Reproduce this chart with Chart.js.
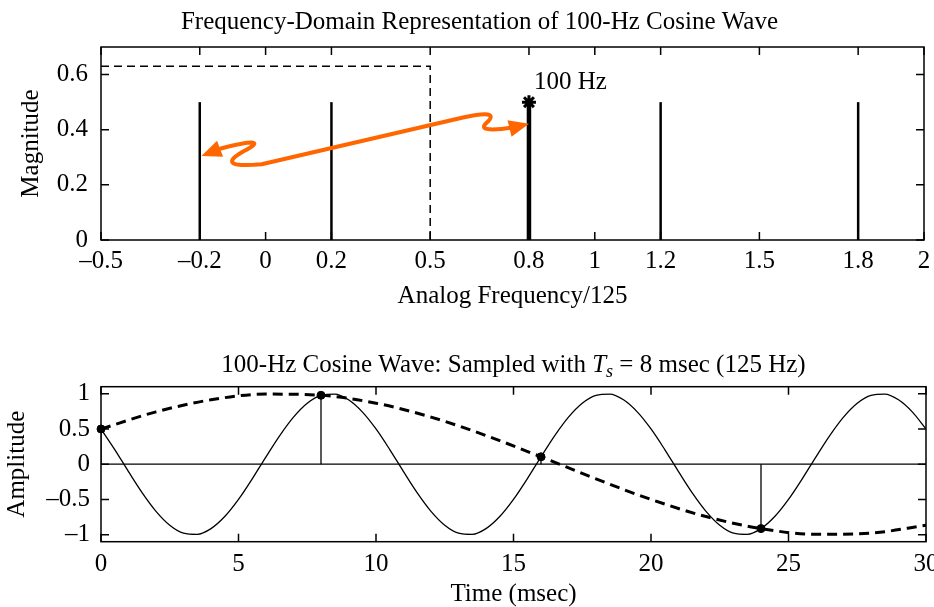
<!DOCTYPE html>
<html>
<head>
<meta charset="utf-8">
<script src="https://cdn.jsdelivr.net/npm/chart.js@4.4.0/dist/chart.umd.min.js"></script>
<style>
  html, body { margin: 0; padding: 0; background: #fff; }
  .box { position: absolute; left: 0; width: 934px; }
</style>
</head>
<body>
<div class="box" style="top:0;height:320px"><canvas id="freq"></canvas></div>
<div class="box" style="top:320px;height:287px"><canvas id="time"></canvas></div>
<script>
// ---- top panel: spectrum ----
const freqTicks = [-0.5, -0.2, 0, 0.2, 0.5, 0.8, 1, 1.2, 1.5, 1.8, 2];
const freqTickLabels = ['\u20130.5', '\u20130.2', '0', '0.2', '0.5', '0.8', '1', '1.2', '1.5', '1.8', '2'];
const magTicks = [0, 0.2, 0.4, 0.6];
const magTickLabels = ['0', '0.2', '0.4', '0.6'];
const spectrumFreq = [-0.2, 0.2, 0.8, 1.2, 1.8];
const spectrumMag = [0.5, 0.5, 0.5, 0.5, 0.5];
const markedIndex = 2; // the 100 Hz line
const foldX = [-0.5, 0.5, 0.5];
const foldY = [0.63, 0.63, 0];

// ---- bottom panel: time signal ----
const timeTicks = [0, 5, 10, 15, 20, 25, 30];
const ampTicks = [-1, -0.5, 0, 0.5, 1];
const ampTickLabels = ['\u20131', '\u20130.5', '0', '0.5', '1'];
const timeMs = [0, 0.5, 1, 1.5, 2, 2.5, 3, 3.5, 4, 4.5, 5, 5.5, 6, 6.5, 7, 7.5, 8, 8.5, 9, 9.5,
  10, 10.5, 11, 11.5, 12, 12.5, 13, 13.5, 14, 14.5, 15, 15.5, 16, 16.5, 17, 17.5, 18, 18.5, 19, 19.5,
  20, 20.5, 21, 21.5, 22, 22.5, 23, 23.5, 24, 24.5, 25, 25.5, 26, 26.5, 27, 27.5, 28, 28.5, 29, 29.5, 30];
const wave100 = [0.5, 0.208, -0.105, -0.407, -0.669, -0.866, -0.978, -0.995, -0.914, -0.743,
  -0.5, -0.208, 0.105, 0.407, 0.669, 0.866, 0.978, 0.995, 0.914, 0.743,
  0.5, 0.208, -0.105, -0.407, -0.669, -0.866, -0.978, -0.995, -0.914, -0.743,
  -0.5, -0.208, 0.105, 0.407, 0.669, 0.866, 0.978, 0.995, 0.914, 0.743,
  0.5, 0.208, -0.105, -0.407, -0.669, -0.866, -0.978, -0.995, -0.914, -0.743,
  -0.5, -0.208, 0.105, 0.407, 0.669, 0.866, 0.978, 0.995, 0.914, 0.743, 0.5];
const aliasMs = [0, 2, 4, 6, 8, 10, 12, 14, 16, 18, 20, 22, 24, 26, 28, 30];
const wave25 = [0.5, 0.743, 0.914, 0.995, 0.978, 0.866, 0.669, 0.407, 0.105, -0.208,
  -0.5, -0.743, -0.914, -0.995, -0.978, -0.866];
const sampleMs = [0, 8, 16, 24];
const sampleAmp = [0.5, 0.978, 0.105, -0.914];

// orange double arrow, in data units of the top panel
const arrowPath = [
  ['M', -0.136, 0.332],
  ['Q', 0.024, 0.379, -0.067, 0.322],
  ['Q', -0.158, 0.260, -0.012, 0.275],
  ['L', 0.603, 0.445],
  ['Q', 0.709, 0.473, 0.676, 0.430],
  ['Q', 0.630, 0.387, 0.752, 0.408]
];
const arrowHeads = [
  { from: [-0.136, 0.332], tip: [-0.195, 0.305] },
  { from: [0.752, 0.408], tip: [0.8, 0.422] }
];

const SERIF = '"Liberation Serif", "Times New Roman", serif';
Chart.defaults.font.family = SERIF;
Chart.defaults.font.size = 25;
Chart.defaults.color = '#000';

const pts = (xs, ys) => xs.map((x, i) => ({ x: x, y: ys[i] }));

function fixedTicks(values) {
  return s => { s.ticks = values.map(v => ({ value: v })); };
}

// frame plus inward ticks on all four sides
const frameTicks = {
  id: 'frameTicks',
  beforeDatasetsDraw(chart) {
    const { ctx, chartArea: a, scales: { x, y } } = chart;
    ctx.save();
    ctx.strokeStyle = '#000';
    ctx.lineWidth = 1.5;
    ctx.beginPath();
    x.ticks.forEach(t => {
      const px = x.getPixelForValue(t.value);
      ctx.moveTo(px, a.bottom); ctx.lineTo(px, a.bottom - 8);
      ctx.moveTo(px, a.top); ctx.lineTo(px, a.top + 8);
    });
    y.ticks.forEach(t => {
      const py = y.getPixelForValue(t.value);
      ctx.moveTo(a.left, py); ctx.lineTo(a.left + 8, py);
      ctx.moveTo(a.right, py); ctx.lineTo(a.right - 8, py);
    });
    ctx.stroke();
    ctx.strokeRect(a.left, a.top, a.right - a.left, a.bottom - a.top);
    ctx.restore();
  }
};

const freqNotes = {
  id: 'freqNotes',
  afterDatasetsDraw(chart) {
    const { ctx, chartArea: a, scales: { x, y } } = chart;
    const X = v => x.getPixelForValue(v), Y = v => y.getPixelForValue(v);
    ctx.save();
    // arrow
    ctx.strokeStyle = '#ff6600';
    ctx.fillStyle = '#ff6600';
    ctx.lineWidth = 4;
    ctx.lineCap = 'round';
    ctx.lineJoin = 'round';
    ctx.beginPath();
    arrowPath.forEach(s => {
      if (s[0] === 'M') ctx.moveTo(X(s[1]), Y(s[2]));
      else if (s[0] === 'L') ctx.lineTo(X(s[1]), Y(s[2]));
      else ctx.quadraticCurveTo(X(s[1]), Y(s[2]), X(s[3]), Y(s[4]));
    });
    ctx.stroke();
    arrowHeads.forEach(h => {
      const tx = X(h.tip[0]), ty = Y(h.tip[1]);
      const fx = X(h.from[0]), fy = Y(h.from[1]);
      const ang = Math.atan2(ty - fy, tx - fx);
      const len = 20, half = 8.5;
      const bx = tx - len * Math.cos(ang), by = ty - len * Math.sin(ang);
      ctx.beginPath();
      ctx.moveTo(tx, ty);
      ctx.lineTo(bx + half * Math.sin(ang), by - half * Math.cos(ang));
      ctx.lineTo(bx - half * Math.sin(ang), by + half * Math.cos(ang));
      ctx.closePath();
      ctx.fill();
    });
    // labels
    ctx.fillStyle = '#000';
    ctx.font = '25px ' + SERIF;
    ctx.textBaseline = 'alphabetic';
    ctx.textAlign = 'left';
    ctx.fillText('100 Hz', X(spectrumFreq[markedIndex]) + 5, Y(spectrumMag[markedIndex]) - 13);
    ctx.textAlign = 'center';
    ctx.fillText('Frequency-Domain Representation of 100-Hz Cosine Wave', (a.left + a.right) / 2 - 33, a.top - 18);
    ctx.restore();
  }
};

const timeTitle = {
  id: 'timeTitle',
  afterDraw(chart) {
    const { ctx, chartArea: a } = chart;
    const parts = [
      ['100-Hz Cosine Wave: Sampled with ', '25px ' + SERIF, 0],
      ['T', 'italic 25px ' + SERIF, 0],
      ['s', 'italic 18px ' + SERIF, 5],
      [' = 8 msec (125 Hz)', '25px ' + SERIF, 0]
    ];
    ctx.save();
    ctx.fillStyle = '#000';
    ctx.textAlign = 'left';
    ctx.textBaseline = 'alphabetic';
    let w = 0;
    parts.forEach(p => { ctx.font = p[1]; w += ctx.measureText(p[0]).width; });
    let cx = (a.left + a.right) / 2 - w / 2;
    const base = a.top - 15;
    parts.forEach(p => {
      ctx.font = p[1];
      ctx.fillText(p[0], cx, base + p[2]);
      cx += ctx.measureText(p[0]).width;
    });
    ctx.restore();
  }
};

const noGrid = { display: true, drawOnChartArea: false, drawTicks: false };

// ---------- top chart ----------
const stemSets = spectrumFreq.map((f, i) => ({
  data: [{ x: f, y: 0 }, { x: f, y: spectrumMag[i] }],
  showLine: true,
  borderColor: '#000',
  borderWidth: i === markedIndex ? 4.5 : 2.5,
  borderCapStyle: 'butt',
  pointRadius: 0
}));

new Chart(document.getElementById('freq'), {
  type: 'scatter',
  data: {
    datasets: [
      {
        data: [{ x: spectrumFreq[markedIndex], y: spectrumMag[markedIndex] }],
        pointStyle: 'star',
        pointRadius: 7,
        borderWidth: 3,
        borderColor: '#000',
        backgroundColor: '#000',
        clip: false
      },
      ...stemSets,
      {
        data: pts(foldX, foldY),
        showLine: true,
        borderColor: '#000',
        borderWidth: 1.5,
        borderDash: [8, 5],
        pointRadius: 0
      }
    ]
  },
  options: {
    responsive: true,
    maintainAspectRatio: false,
    animation: false,
    events: [],
    layout: { padding: { top: 47, right: 8, bottom: 0, left: 0 } },
    plugins: { legend: { display: false }, tooltip: { enabled: false } },
    scales: {
      x: {
        type: 'linear', min: -0.5, max: 2,
        afterBuildTicks: fixedTicks(freqTicks),
        afterFit: s => { s.height = 80; s.paddingRight = 0; },
        grid: noGrid, border: { display: false },
        ticks: { padding: 9, maxRotation: 0, autoSkip: false, font: { lineHeight: 1 },
          callback: (v, i) => freqTickLabels[i] },
        title: { display: true, text: 'Analog Frequency/125', font: { lineHeight: 1 },
          padding: { top: 4, bottom: 11.5 } }
      },
      y: {
        type: 'linear', min: 0, max: 0.7,
        afterBuildTicks: fixedTicks(magTicks),
        afterFit: s => { s.width = 101; },
        grid: noGrid, border: { display: false },
        ticks: { padding: 13, font: { lineHeight: 1 }, callback: (v, i) => magTickLabels[i] },
        title: { display: true, text: 'Magnitude', font: { lineHeight: 1 },
          padding: { top: 19, bottom: 0 } }
      }
    }
  },
  plugins: [frameTicks, freqNotes]
});

// ---------- bottom chart ----------
const sampleStems = sampleMs.map((t, i) => ({
  data: [{ x: t, y: 0 }, { x: t, y: sampleAmp[i] }],
  showLine: true,
  borderColor: '#000',
  borderWidth: 1.3,
  pointRadius: 0
}));

new Chart(document.getElementById('time'), {
  type: 'scatter',
  data: {
    datasets: [
      {
        data: pts(sampleMs, sampleAmp),
        pointRadius: 4,
        pointBackgroundColor: '#000',
        pointBorderColor: '#000',
        clip: false
      },
      ...sampleStems,
      {
        data: pts(aliasMs, wave25),
        showLine: true,
        borderColor: '#000',
        borderWidth: 3,
        borderDash: [10, 6],
        cubicInterpolationMode: 'monotone',
        pointRadius: 0
      },
      {
        data: pts(timeMs, wave100),
        showLine: true,
        borderColor: '#000',
        borderWidth: 1.3,
        cubicInterpolationMode: 'monotone',
        pointRadius: 0
      },
      {
        data: [{ x: timeTicks[0], y: 0 }, { x: timeTicks[timeTicks.length - 1], y: 0 }],
        showLine: true,
        borderColor: '#000',
        borderWidth: 1.3,
        pointRadius: 0
      }
    ]
  },
  options: {
    responsive: true,
    maintainAspectRatio: false,
    animation: false,
    events: [],
    layout: { padding: { top: 66.7, right: 8, bottom: 0, left: 0 } },
    plugins: { legend: { display: false }, tooltip: { enabled: false } },
    scales: {
      x: {
        type: 'linear', min: 0, max: 30,
        afterBuildTicks: fixedTicks(timeTicks),
        afterFit: s => { s.height = 65.3; s.paddingRight = 0; },
        grid: noGrid, border: { display: false },
        ticks: { padding: 10.5, maxRotation: 0, autoSkip: false, font: { lineHeight: 1 } },
        title: { display: true, text: 'Time (msec)', font: { lineHeight: 1 },
          padding: { top: 0, bottom: 0 } }
      },
      y: {
        type: 'linear', min: -1.1, max: 1.1,
        afterBuildTicks: fixedTicks(ampTicks),
        afterFit: s => { s.width = 101; },
        grid: noGrid, border: { display: false },
        ticks: { padding: 11, font: { lineHeight: 1 }, callback: (v, i) => ampTickLabels[i] },
        title: { display: true, text: 'Amplitude', font: { lineHeight: 1 },
          padding: { top: 5, bottom: 0 } }
      }
    }
  },
  plugins: [frameTicks, timeTitle]
});
</script>
</body>
</html>
